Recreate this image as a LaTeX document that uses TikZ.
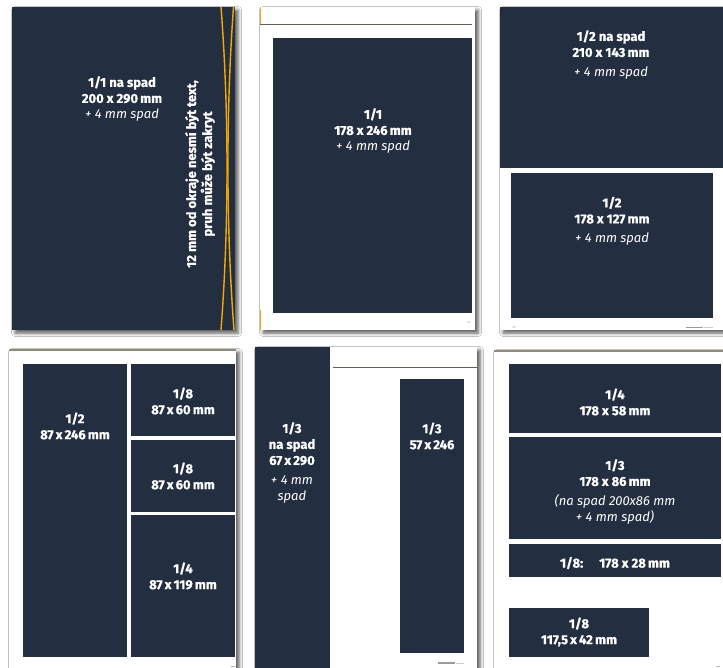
\documentclass[tikz,border=0pt]{standalone}
\usepackage{fontspec}
\setmainfont{Fira Sans}[BoldFeatures={FakeBold=0.8}]
\usetikzlibrary{shadows.blur}
\definecolor{navy}{HTML}{242E41}
\definecolor{gold}{HTML}{F5AA00}
\definecolor{olive}{HTML}{8E8B78}
\definecolor{ftgray}{HTML}{9A9A9A}
\tikzset{
  darkbox/.style={fill=navy, draw=none},
  pshadow/.style={blur shadow={shadow xshift=3pt, shadow yshift=-3pt, shadow blur radius=3.5pt, shadow opacity=65}},
  pagebox/.style={fill=white, draw=none, pshadow},
  lbl/.style={text=white, align=center, inner sep=0pt, font=\fontsize{13}{16}\selectfont\bfseries},
  topline/.style={draw=olive, line width=1.5pt},
  headline/.style={draw=olive!70!black, line width=1pt},
  foldline/.style={draw=gold, line width=1.4pt},
  footer/.style={text=ftgray, inner sep=0pt, font=\fontsize{3}{3}\selectfont},
  footbar/.style={draw=ftgray, line width=1.2pt}
}
\newcommand{\spadit}[1]{{\normalfont\itshape #1}}
\begin{document}
\begin{tikzpicture}[x=1pt,y=-1pt]
\useasboundingbox (0,0) rectangle (723,668);
\fill[white] (0,0) rectangle (723,668);

% ---------- top-left page ----------
\path[darkbox, pshadow] (12,7) rectangle (235,330);
\draw[foldline] (221,7) .. controls (229,110) and (229,226) .. (221,330);
\draw[foldline] (233.5,7) .. controls (226,110) and (226,226) .. (234,330);
\node[lbl] (tl) at (122,99) {1/1 na spad\\200 x 290\,mm\\\spadit{+ 4 mm spad}};
\node[lbl, rotate=90] (tlr) at (200,174) {12 mm od okraje nesmí být text,\\pruh může být zakryt};

% ---------- top-middle page ----------
\path[pagebox] (260,7) rectangle (475,330);
\draw[headline] (260,25) -- (472,25);
\draw[gold, line width=1pt] (260.5,7) -- (260.5,24);
\draw[gold, line width=1pt] (260.5,310) -- (260.5,330);
\path[darkbox] (273,38) rectangle (472,313);
\node[lbl] (tm) at (373,131) {1/1\\178 x 246\,mm\\\spadit{+ 4 mm spad}};
\node[footer] (f1) at (469,323) {53};

% ---------- top-right page ----------
\path[pagebox] (500,7) rectangle (723,330);
\path[darkbox] (500,7) rectangle (723,168);
\path[darkbox] (511,173) rectangle (713,318);
\node[lbl] (tr1) at (611,55) {1/2 na spad\\210 x 143\,mm\\[4pt]\spadit{+ 4 mm spad}};
\node[lbl] (tr2) at (612,221) {1/2\\178 x 127\,mm\\[3pt]\spadit{+ 4 mm spad}};
\node[footer] (f2) at (514,327.5) {52};
\draw[footbar] (686,327.5) -- (703,327.5);
\draw[ftgray!50, line width=1pt] (704,327.5) -- (713,327.5);

% ---------- bottom-left page ----------
\path[pagebox] (9,349) rectangle (236,690);
\draw[topline] (9,350) -- (236,350);
\path[darkbox] (23,364) rectangle (127,657);
\path[darkbox] (131,364) rectangle (235,436);
\path[darkbox] (131,440) rectangle (235,512);
\path[darkbox] (131,515) rectangle (235,657);
\node[lbl] (bl1) at (75,426) {1/2\\87\,x\,246\,mm};
\node[lbl] (bl2) at (183,401) {1/8\\87\,x\,60\,mm};
\node[lbl] (bl3) at (183,476) {1/8\\87\,x\,60\,mm};
\node[lbl] (bl4) at (183,576) {1/4\\87\,x\,119\,mm};
\draw[ftgray!70, line width=1pt] (231,666) -- (235,666);

% ---------- bottom-middle page ----------
\path[pagebox] (255,347) rectangle (477,690);
\path[darkbox] (255,347) rectangle (330,668);
\draw[headline] (333,367) -- (477,367);
\path[darkbox] (400,379) rectangle (464,653);
\node[lbl] (bm1) at (292,463) {1/3\\na spad\\67\,x\,290\\[4pt]\spadit{+ 4 mm}\\\spadit{spad}};
\node[lbl] (bm2) at (432,436) {1/3\\57\,x\,246};
\draw[footbar] (438,663) -- (455,663);
\draw[ftgray!50, line width=1pt] (456,663) -- (464,663);

% ---------- bottom-right page ----------
\path[pagebox] (494,350) rectangle (730,690);
\draw[topline] (494,351) -- (723,351);
\path[darkbox] (509,364) rectangle (721,433);
\path[darkbox] (509,437) rectangle (721,539);
\path[darkbox] (509,544) rectangle (721,577);
\path[darkbox] (509,608) rectangle (649,657);
\node[lbl] (br1) at (615,402) {1/4\\178 x 58\,mm};
\node[lbl] (br2) at (615,492) {1/3\\178 x 86\,mm\\[4pt]\spadit{(na spad 200x86 mm}\\\spadit{+ 4 mm spad)}};
\node[lbl] (br3) at (615,563) {1/8:\quad\ 178 x 28\,mm};
\node[lbl] (br4) at (579,632) {1/8\\117,5\,x\,42\,mm};
\draw[ftgray!70, line width=1pt] (716,666) -- (720,666);
\end{tikzpicture}
\end{document}
